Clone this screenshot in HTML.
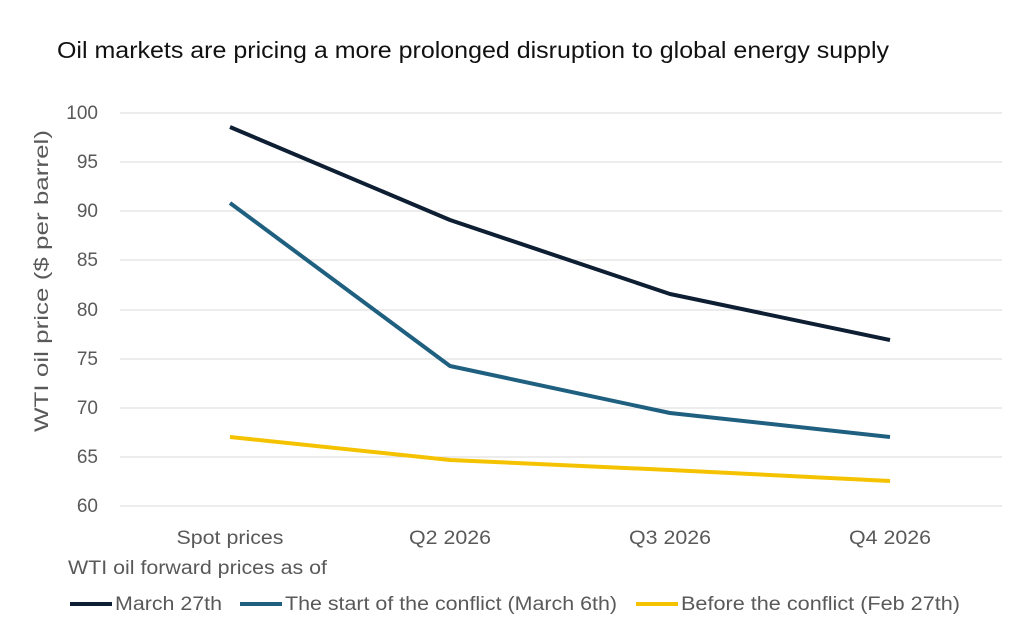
<!DOCTYPE html>
<html><head><meta charset="utf-8"><style>
html,body{margin:0;padding:0;background:#fff;}
svg{display:block;font-family:"Liberation Sans",sans-serif;}
</style></head><body>
<svg width="1024" height="637" viewBox="0 0 1024 637">
<text x="57" y="58" font-size="23" fill="#111" textLength="832" lengthAdjust="spacingAndGlyphs">Oil markets are pricing a more prolonged disruption to global energy supply</text>
<g stroke="#d9d9d9" stroke-width="1">
<line x1="120" x2="1002" y1="113" y2="113"/>
<line x1="120" x2="1002" y1="162" y2="162"/>
<line x1="120" x2="1002" y1="211" y2="211"/>
<line x1="120" x2="1002" y1="260" y2="260"/>
<line x1="120" x2="1002" y1="310" y2="310"/>
<line x1="120" x2="1002" y1="359" y2="359"/>
<line x1="120" x2="1002" y1="408" y2="408"/>
<line x1="120" x2="1002" y1="457" y2="457"/>
<line x1="120" x2="1002" y1="506" y2="506"/>
</g>
<g font-size="19" fill="#595959" text-anchor="end">
<text x="98" y="119">100</text><text x="98" y="168">95</text><text x="98" y="217">90</text>
<text x="98" y="266">85</text><text x="98" y="316">80</text><text x="98" y="365">75</text>
<text x="98" y="414">70</text><text x="98" y="463">65</text><text x="98" y="512">60</text>
</g>
<g font-size="19" fill="#595959" text-anchor="middle">
<text x="230" y="544" textLength="107" lengthAdjust="spacingAndGlyphs">Spot prices</text><text x="450" y="544" textLength="82" lengthAdjust="spacingAndGlyphs">Q2 2026</text>
<text x="670" y="544" textLength="82" lengthAdjust="spacingAndGlyphs">Q3 2026</text><text x="890" y="544" textLength="82" lengthAdjust="spacingAndGlyphs">Q4 2026</text>
</g>
<text transform="translate(48,281) rotate(-90)" font-size="19" fill="#595959" text-anchor="middle" textLength="302" lengthAdjust="spacingAndGlyphs">WTI oil price ($ per barrel)</text>
<g fill="none" stroke-width="4" stroke-linejoin="round">
<polyline stroke="#0e1e33" points="230,127 450,220 670,294 890,340"/>
<polyline stroke="#1f6080" points="230,203 450,366 670,413 890,437"/>
<polyline stroke="#f5c200" points="230,437 450,460 670,470 890,481"/>
</g>
<text x="68" y="574" font-size="19" fill="#595959" textLength="259" lengthAdjust="spacingAndGlyphs">WTI oil forward prices as of</text>
<g font-size="19" fill="#595959">
<line x1="70" x2="112" y1="604" y2="604" stroke="#0e1e33" stroke-width="4"/>
<text x="115" y="610" textLength="107" lengthAdjust="spacingAndGlyphs">March 27th</text>
<line x1="240" x2="282" y1="604" y2="604" stroke="#1f6080" stroke-width="4"/>
<text x="285" y="610" textLength="332" lengthAdjust="spacingAndGlyphs">The start of the conflict (March 6th)</text>
<line x1="636" x2="678" y1="604" y2="604" stroke="#f5c200" stroke-width="4"/>
<text x="681" y="610" textLength="279" lengthAdjust="spacingAndGlyphs">Before the conflict (Feb 27th)</text>
</g>
</svg>
</body></html>
